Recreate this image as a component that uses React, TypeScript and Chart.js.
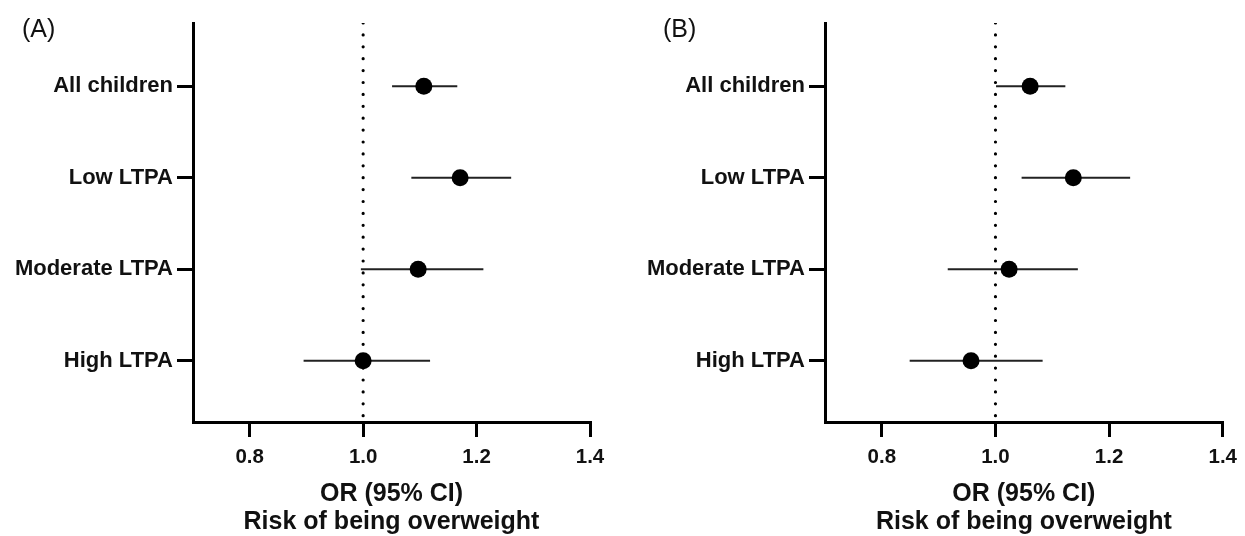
import React, { useEffect, useRef } from "react";
import { Chart, registerables } from "chart.js";

Chart.register(...registerables);

const categories = ["All children", "Low LTPA", "Moderate LTPA", "High LTPA"];
const orA = [1.107, 1.171, 1.097, 1.0];
const lowA = [1.051, 1.085, 0.996, 0.895];
const highA = [1.166, 1.261, 1.212, 1.118];
const orB = [1.061, 1.137, 1.024, 0.957];
const lowB = [1.001, 1.046, 0.916, 0.849];
const highB = [1.123, 1.237, 1.145, 1.083];
const xTicks = [0.8, 1.0, 1.2, 1.4];
const xMin = 0.7;
const xMax = 1.4;
const refValue = 1.0;
const panelLabels = ["(A)", "(B)"];
const axisTitle = ["OR (95% CI)", "Risk of being overweight"];

const FONT = "'Liberation Sans', Arial, Helvetica, sans-serif";
const INK = "#111111";

type PanelProps = {
  or: number[];
  low: number[];
  high: number[];
  label: string;
  left: number;
  width: number;
  yWidth: number;
  padRight: number;
  labelX: number;
};

function ForestPanel(p: PanelProps) {
  const ref = useRef<HTMLCanvasElement>(null);
  useEffect(() => {
    const canvas = ref.current!;
    const yMin = 0.31;
    const yMax = 4.67;
    const points = {
      type: "scatter" as const,
      data: p.or.map((v, i) => ({ x: v, y: i + 1 })),
      pointRadius: 8.5,
      pointHoverRadius: 8.5,
      pointBackgroundColor: "#000",
      pointBorderColor: "#000",
      pointBorderWidth: 0,
      showLine: false,
    };
    const ciSets = p.or.map((_, i) => ({
      type: "line" as const,
      data: [
        { x: p.low[i], y: i + 1 },
        { x: p.high[i], y: i + 1 },
      ],
      showLine: true,
      borderColor: "#222",
      borderWidth: 2,
      pointRadius: 0,
      fill: false,
    }));
    const refLine = {
      type: "line" as const,
      data: [
        { x: refValue, y: yMin },
        { x: refValue, y: yMax },
      ],
      showLine: true,
      borderColor: "#000",
      borderWidth: 3.2,
      borderDash: [0, 11.9],
      borderCapStyle: "round" as const,
      pointRadius: 0,
      fill: false,
    };
    const labelPlugin = {
      id: "panelLabel",
      afterDraw(chart: any) {
        const ctx = chart.ctx;
        ctx.save();
        ctx.fillStyle = INK;
        ctx.font = `25px ${FONT}`;
        ctx.textBaseline = "alphabetic";
        ctx.textAlign = "left";
        ctx.fillText(p.label, p.labelX, 36.5);
        ctx.restore();
      },
    };
    const chart = new Chart(canvas, {
      type: "scatter",
      data: { datasets: [points, ...ciSets, refLine] as any },
      options: {
        animation: false,
        responsive: false,
        devicePixelRatio: 1,
        layout: { padding: { left: 0, right: p.padRight, top: 23, bottom: 0 } },
        plugins: {
          legend: { display: false },
          tooltip: { enabled: false },
        },
        scales: {
          x: {
            type: "linear",
            min: xMin,
            max: xMax,
            afterBuildTicks: (s: any) => {
              s.ticks = xTicks.map((v) => ({ value: v }));
            },
            afterFit: (s: any) => {
              s.height = 114;
            },
            ticks: {
              color: INK,
              font: { family: FONT, size: 20.5, weight: "bold" },
              padding: 8,
              autoSkip: false,
              maxRotation: 0,
              callback: (v: any) => Number(v).toFixed(1),
            },
            grid: {
              display: true,
              drawOnChartArea: false,
              drawTicks: true,
              tickLength: 15,
              lineWidth: 3,
              color: "#000",
            },
            border: { display: true, width: 3, color: "#000" },
            title: {
              display: true,
              text: axisTitle,
              color: INK,
              font: { family: FONT, size: 25, weight: "bold", lineHeight: 1.12 },
              padding: { top: 0, bottom: 0 },
            },
          },
          y: {
            type: "linear",
            reverse: true,
            min: yMin,
            max: yMax,
            afterBuildTicks: (s: any) => {
              s.ticks = categories.map((_, i) => ({ value: i + 1 }));
            },
            afterFit: (s: any) => {
              s.width = p.yWidth;
            },
            ticks: {
              color: INK,
              font: { family: FONT, size: 22, weight: "bold" },
              padding: 4,
              autoSkip: false,
              callback: (_v: any, i: number) => categories[i] ?? "",
            },
            grid: {
              display: true,
              drawOnChartArea: false,
              drawTicks: true,
              tickLength: 16,
              lineWidth: 3,
              color: "#000",
            },
            border: { display: true, width: 3, color: "#000" },
          },
        },
      } as any,
      plugins: [labelPlugin],
    });
    return () => chart.destroy();
  }, []);
  return (
    <canvas
      ref={ref}
      width={p.width}
      height={536}
      style={{ position: "absolute", left: p.left, top: 0, width: p.width, height: 536 }}
    />
  );
}

export default function App() {
  return (
    <div style={{ position: "absolute", left: 0, top: 0, width: 1245, height: 536, background: "#fff" }}>
      <ForestPanel or={orA} low={lowA} high={highA} label={panelLabels[0]} left={0} width={622} yWidth={193} padRight={32} labelX={22} />
      <ForestPanel or={orB} low={lowB} high={highB} label={panelLabels[1]} left={622} width={623} yWidth={203} padRight={22} labelX={41} />
    </div>
  );
}
